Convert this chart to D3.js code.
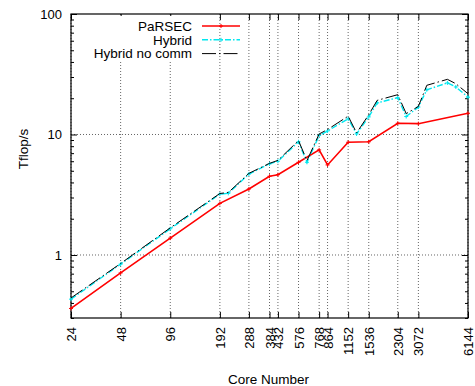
<!DOCTYPE html>
<html>
<head>
<meta charset="utf-8">
<script src="https://cdn.jsdelivr.net/npm/d3@7"></script>
<style>
  body { margin: 0; background: #fff; }
  text { font-family: "Liberation Sans", Arial, sans-serif; }
</style>
</head>
<body>
<div id="chart"></div>
<script>
// core counts and Tflop/s
const coresParsec = [24, 48, 96, 192, 288, 384, 432, 576, 768, 864, 1152, 1536, 2304, 3072, 6144];
const parsec = [0.36, 0.71, 1.38, 2.68, 3.53, 4.5, 4.64, 5.88, 7.45, 5.59, 8.62, 8.7, 12.4, 12.3, 15.0];

const coresHybrid = [24, 48, 96, 192, 216, 288, 384, 432, 576, 648, 768, 864, 1152, 1296, 1536, 1728, 2304, 2592, 3072, 3456, 4608, 5184, 6144];
const hybrid = [0.43, 0.84, 1.65, 3.2, 3.25, 4.7, 5.7, 6.0, 8.7, 5.88, 9.8, 10.7, 13.5, 10.1, 14.0, 18.3, 20.2, 14.1, 16.9, 23.5, 26.8, 24.8, 20.4];
const hybridNoComm = [0.44, 0.85, 1.68, 3.24, 3.3, 4.76, 5.76, 6.1, 8.9, 6.07, 10.1, 11.0, 14.2, 10.3, 14.6, 19.2, 21.4, 14.9, 17.1, 25.6, 28.7, 26.4, 21.8];

const xTicks = [24, 48, 96, 192, 288, 384, 432, 576, 768, 864, 1152, 1536, 2304, 3072, 6144];
const yTicks = [1, 10, 100];
const yMinor = [0.3, 0.4, 0.5, 0.6, 0.7, 0.8, 0.9, 2, 3, 4, 5, 6, 7, 8, 9, 20, 30, 40, 50, 60, 70, 80, 90];

const margin = { top: 14, right: 7, bottom: 68, left: 71 },
  width = 475 - margin.left - margin.right,
  height = 386 - margin.top - margin.bottom;

const svg = d3
  .select("#chart")
  .append("svg")
  .attr("width", 475)
  .attr("height", 386)
  .append("g")
  .attr("transform", `translate(${margin.left},${margin.top})`);

const x = d3.scaleLog().domain([24, 6144]).range([0, width]);
const y = d3.scaleLog().domain([0.3, 100]).range([height, 0]);

// grid
svg
  .selectAll(".vgrid")
  .data(xTicks)
  .join("line")
  .attr("x1", (d) => x(d))
  .attr("x2", (d) => x(d))
  .attr("y1", 0)
  .attr("y2", height)
  .attr("stroke", "#666")
  .attr("stroke-dasharray", "1,2");
svg
  .selectAll(".hgrid")
  .data([1, 10])
  .join("line")
  .attr("x1", 0)
  .attr("x2", width)
  .attr("y1", (d) => y(d))
  .attr("y2", (d) => y(d))
  .attr("stroke", "#666")
  .attr("stroke-dasharray", "1,2");

// axes with mirrored ticks
const fmt = (d) => d;
svg
  .append("g")
  .attr("transform", `translate(0,${height})`)
  .call(d3.axisBottom(x).tickValues(xTicks).tickSize(-6).tickFormat(fmt))
  .call((g) => g.select(".domain").remove())
  .call((g) =>
    g
      .selectAll("text")
      .attr("transform", "rotate(-90)")
      .attr("text-anchor", "end")
      .attr("x", -9)
      .attr("y", 0)
      .attr("dy", "0.35em")
      .attr("font-size", 13)
      .attr("fill", "#000"),
  );
svg
  .append("g")
  .call(d3.axisTop(x).tickValues(xTicks).tickSize(-6).tickFormat(""))
  .call((g) => g.select(".domain").remove());

svg
  .append("g")
  .call(d3.axisLeft(y).tickValues(yTicks).tickSize(-6).tickPadding(9).tickFormat(fmt))
  .call((g) => g.select(".domain").remove())
  .call((g) => g.selectAll("text").attr("font-size", 13).attr("fill", "#000"));
svg
  .append("g")
  .call(d3.axisLeft(y).tickValues(yMinor).tickSize(-3).tickFormat(""))
  .call((g) => g.select(".domain").remove());
svg
  .append("g")
  .attr("transform", `translate(${width},0)`)
  .call(d3.axisRight(y).tickValues(yTicks).tickSize(-6).tickFormat(""))
  .call((g) => g.select(".domain").remove());
svg
  .append("g")
  .attr("transform", `translate(${width},0)`)
  .call(d3.axisRight(y).tickValues(yMinor).tickSize(-3).tickFormat(""))
  .call((g) => g.select(".domain").remove());

svg
  .append("rect")
  .attr("width", width)
  .attr("height", height)
  .attr("fill", "none")
  .attr("stroke", "#000")
  .attr("stroke-width", 1.2);

// legend background hides grid behind the key text
svg
  .append("rect")
  .attr("x", 20)
  .attr("y", 2)
  .attr("width", 106)
  .attr("height", 46)
  .attr("fill", "#fff");

// series
const series = [
  { name: "PaRSEC", cores: coresParsec, vals: parsec, color: "#ff0000", width: 1.6, dash: null, mark: true },
  { name: "Hybrid", cores: coresHybrid, vals: hybrid, color: "#00e8f0", width: 1.4, dash: "6,2,1.5,2", mark: true },
  { name: "Hybrid no comm", cores: coresHybrid, vals: hybridNoComm, color: "#000", width: 1, dash: "14,3,1.5,3", mark: false },
];

const line = d3
  .line()
  .x((d) => x(d[0]))
  .y((d) => y(d[1]));

series.forEach(function (s, i) {
  const pts = d3.zip(s.cores, s.vals);
  svg
    .append("path")
    .datum(pts)
    .attr("fill", "none")
    .attr("stroke", s.color)
    .attr("stroke-width", s.width)
    .attr("stroke-dasharray", s.dash)
    .attr("d", line);
  if (s.mark) {
    svg
      .append("g")
      .selectAll("path")
      .data(pts)
      .join("path")
      .attr("d", (d) => `M${x(d[0]) - 2},${y(d[1])}h4M${x(d[0])},${y(d[1]) - 2}v4`)
      .attr("stroke", s.color)
      .attr("stroke-width", 1);
  }

  // legend row
  const ly = 12 + i * 13.8;
  svg
    .append("text")
    .attr("x", 121)
    .attr("y", ly)
    .attr("dy", "0.35em")
    .attr("text-anchor", "end")
    .attr("font-size", 13.5)
    .text(s.name);
  svg
    .append("line")
    .attr("x1", 131)
    .attr("x2", 169)
    .attr("y1", ly)
    .attr("y2", ly)
    .attr("stroke", s.color)
    .attr("stroke-width", s.width)
    .attr("stroke-dasharray", s.dash);
  if (s.mark) {
    svg
      .append("path")
      .attr("d", `M148,${ly}h4M150,${ly - 2}v4`)
      .attr("stroke", s.color);
  }
});

// axis titles
svg
  .append("text")
  .attr("transform", `translate(-48,${height / 2 - 17}) rotate(-90)`)
  .attr("text-anchor", "middle")
  .attr("dy", "0.35em")
  .attr("font-size", 13.5)
  .text("Tflop/s");
svg
  .append("text")
  .attr("x", width / 2 - 1)
  .attr("y", height + 66)
  .attr("text-anchor", "middle")
  .attr("font-size", 13.5)
  .text("Core Number");
</script>
</body>
</html>
